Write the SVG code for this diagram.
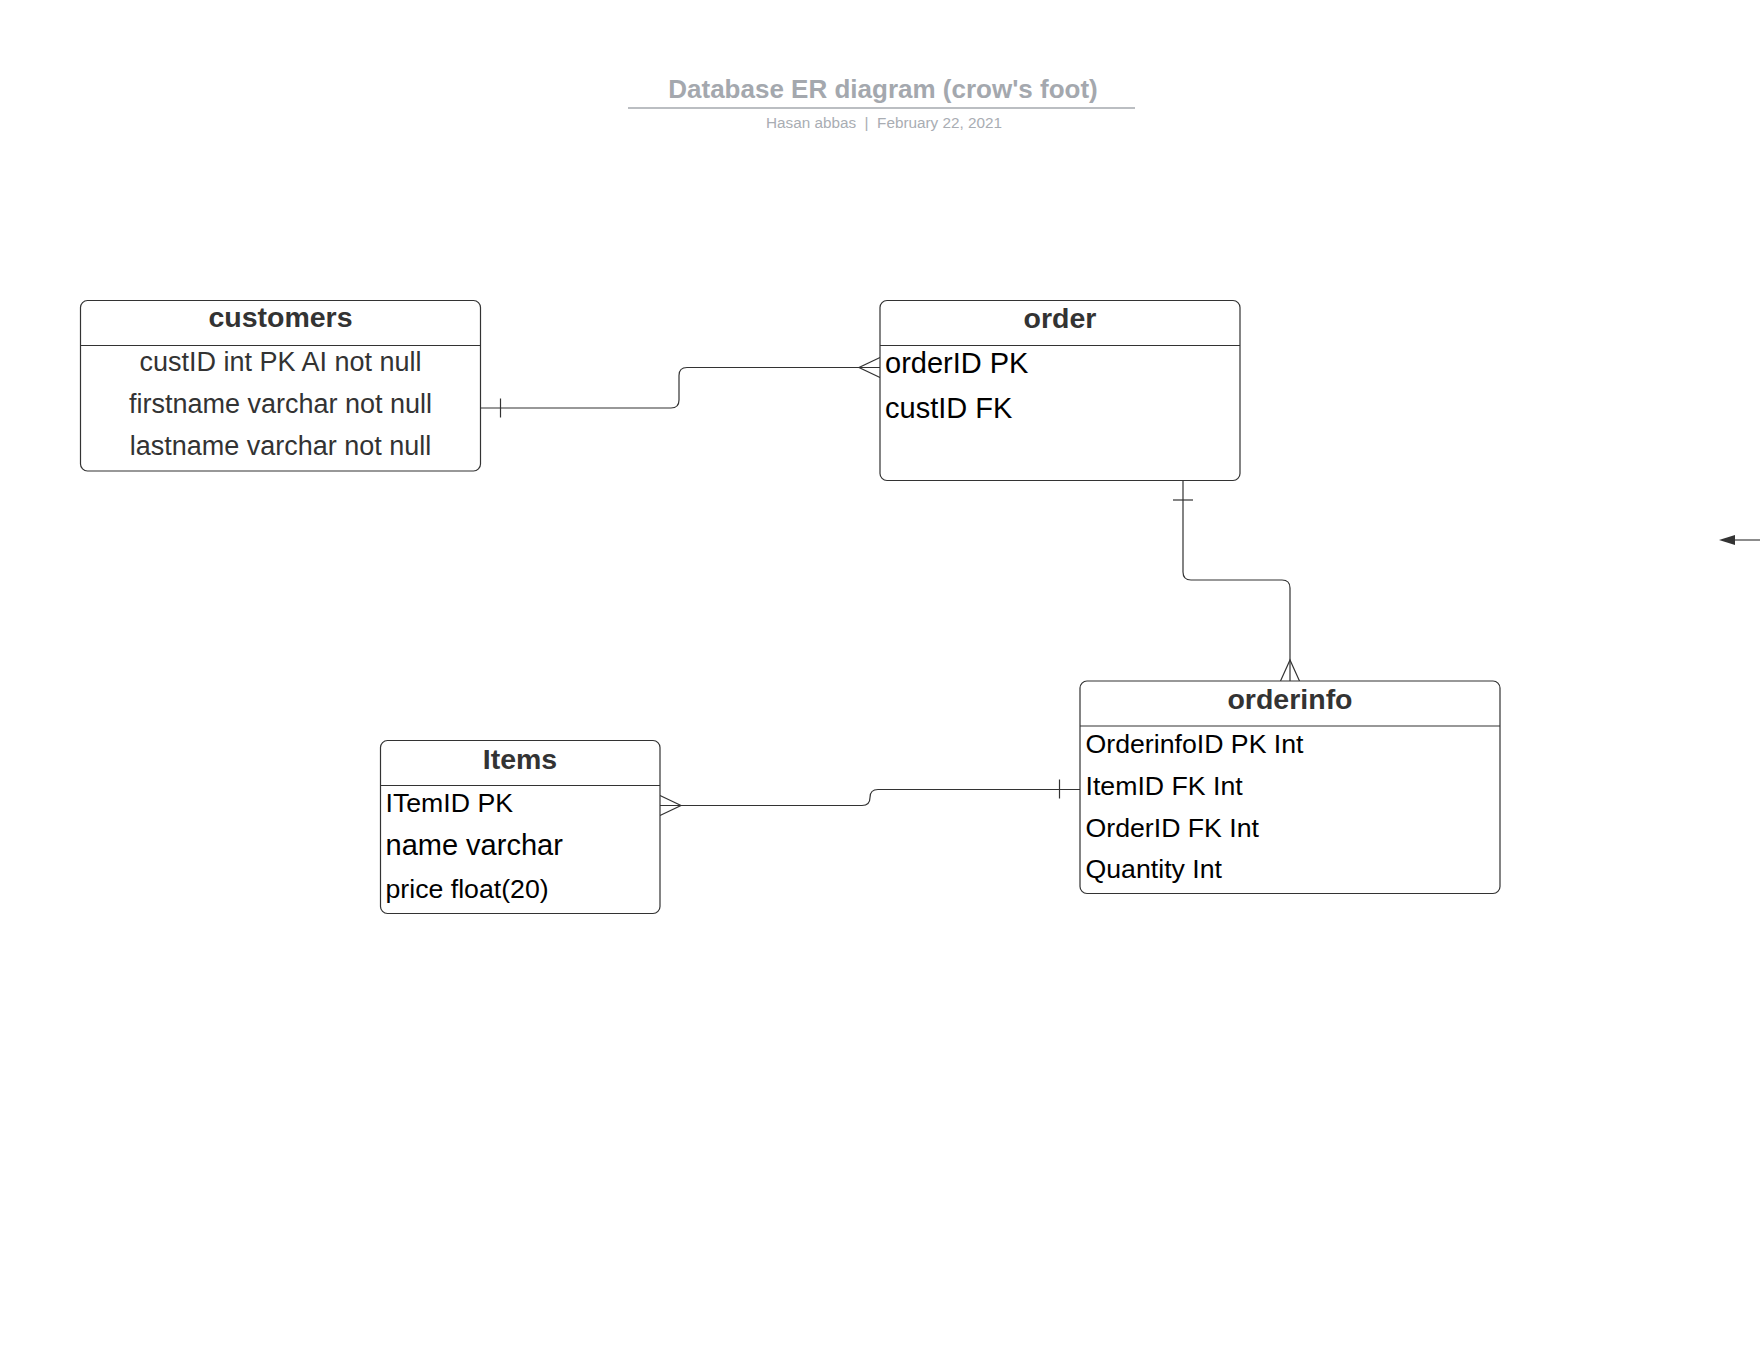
<svg xmlns="http://www.w3.org/2000/svg" width="1760" height="1360" viewBox="0 0 1760 1360">
<style>
.box{fill:#fff;stroke:#333;stroke-width:1.2}
.div{stroke:#333;stroke-width:1.2}
.hdr{font-family:"Liberation Sans",Arial,sans-serif;font-weight:bold;font-size:28.5px;fill:#333;text-anchor:middle}
.row{font-family:"Liberation Sans",Arial,sans-serif;font-size:26.7px;fill:#000}
.rowg{font-family:"Liberation Sans",Arial,sans-serif;font-size:27px;fill:#333;text-anchor:middle}
.big{font-size:29px}
.conn{fill:none;stroke:#333;stroke-width:1.2}
</style>
<rect width="1760" height="1360" fill="#fff"/>
<g id="title">
<text x="883" y="98" font-family="Liberation Sans,Arial,sans-serif" font-weight="bold" font-size="26" fill="#a4a8ae" text-anchor="middle">Database ER diagram (crow's foot)</text>
<line x1="628" y1="108" x2="1135" y2="108" stroke="#a4a8ae" stroke-width="1.5"/>
<text x="884" y="128" font-family="Liberation Sans,Arial,sans-serif" font-size="15.3" fill="#a9adb3" text-anchor="middle" style="white-space:pre">Hasan abbas  |  February 22, 2021</text>
</g>
<g id="connectors">
<path class="conn" d="M480,408 H671 Q679,408 679,400 V375.5 Q679,367.5 687,367.5 H880"/>
<line class="conn" x1="500.5" y1="398.5" x2="500.5" y2="417.5"/>
<path class="conn" d="M880,357.5 L859,367.5 L880,377.5"/>
<path class="conn" d="M1183,480 V572 Q1183,580 1191,580 H1282 Q1290,580 1290,588 V681"/>
<line class="conn" x1="1173" y1="500" x2="1193" y2="500"/>
<path class="conn" d="M1280.5,681 L1290,660 L1299.5,681"/>
<path class="conn" d="M660,805.5 H862 Q870,805.5 870,797.5 V797.5 Q870,789.5 878,789.5 H1080"/>
<line class="conn" x1="1059.5" y1="779.5" x2="1059.5" y2="798.5"/>
<path class="conn" d="M660,795.5 L681,805.5 L660,815.5"/>
<line x1="1735" y1="540" x2="1760" y2="540" stroke="#666" stroke-width="1.5"/>
<path d="M1719,540 L1735,535 L1735,545 Z" fill="#333"/>
</g>
<g id="customers">
<rect class="box" x="80.5" y="300.5" width="400" height="170.5" rx="7"/>
<line class="div" x1="80.5" y1="345.5" x2="480.5" y2="345.5"/>
<text class="hdr" x="280.5" y="327">customers</text>
<text class="rowg" x="280.5" y="371">custID int PK AI not null</text>
<text class="rowg" x="280.5" y="413">firstname varchar not null</text>
<text class="rowg" x="280.5" y="455">lastname varchar not null</text>
</g>
<g id="order">
<rect class="box" x="880" y="300.5" width="360" height="180" rx="7"/>
<line class="div" x1="880" y1="345.5" x2="1240" y2="345.5"/>
<text class="hdr" x="1060" y="327.5">order</text>
<text class="row big" x="885" y="373">orderID PK</text>
<text class="row big" x="885" y="418">custID FK</text>
</g>
<g id="orderinfo">
<rect class="box" x="1080" y="681" width="420" height="212.5" rx="7"/>
<line class="div" x1="1080" y1="726" x2="1500" y2="726"/>
<text class="hdr" x="1290" y="709">orderinfo</text>
<text class="row" x="1085.5" y="753">OrderinfoID PK Int</text>
<text class="row" x="1085.5" y="795">ItemID FK Int</text>
<text class="row" x="1085.5" y="836.5">OrderID FK Int</text>
<text class="row" x="1085.5" y="878">Quantity Int</text>
</g>
<g id="items">
<rect class="box" x="380.5" y="740.5" width="279.5" height="173" rx="7"/>
<line class="div" x1="380.5" y1="785.5" x2="660" y2="785.5"/>
<text class="hdr" x="520" y="769">Items</text>
<text class="row" x="385.5" y="812">ITemID PK</text>
<text class="row big" x="385.5" y="855">name varchar</text>
<text class="row" x="385.5" y="898">price float(20)</text>
</g>
</svg>
